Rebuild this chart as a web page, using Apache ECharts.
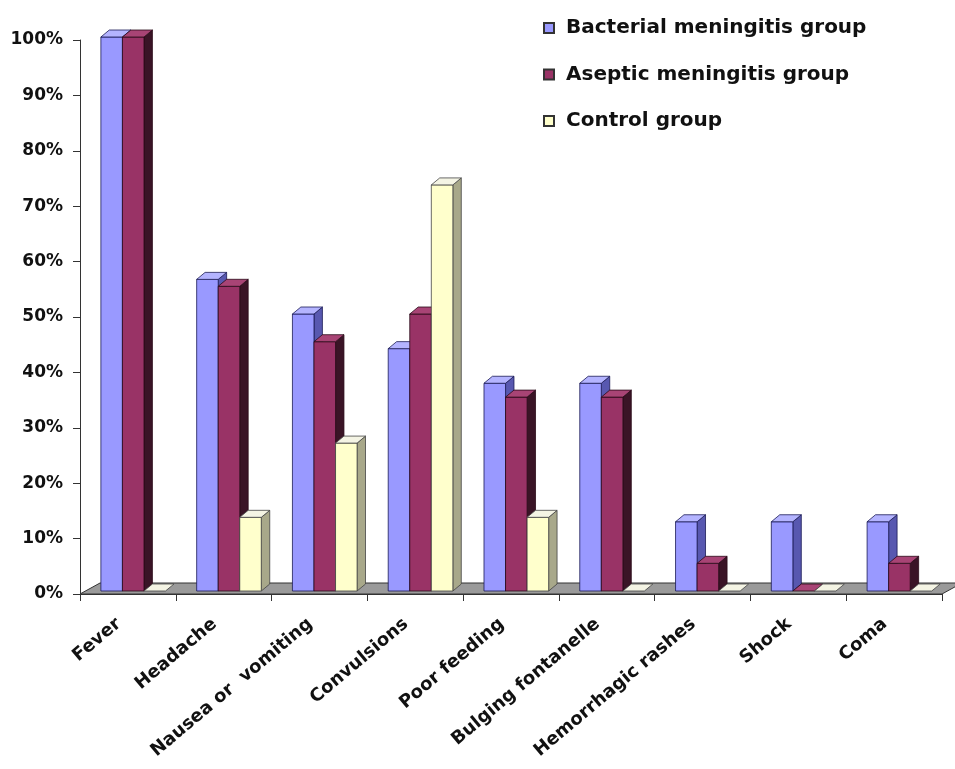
<!DOCTYPE html>
<html><head><meta charset="utf-8">
<script src="https://cdn.jsdelivr.net/npm/echarts@6/dist/echarts.min.js"></script>
<style>html,body{margin:0;padding:0;background:#fff}#c{width:955px;height:769px}</style>
</head><body><div id="c"></div>
<script>
const categories = ['Fever','Headache','Nausea or  vomiting','Convulsions','Poor feeding','Bulging fontanelle','Hemorrhagic rashes','Shock','Coma'];
const seriesNames = ['Bacterial meningitis group','Aseptic meningitis group','Control group'];
const bacterial = [100, 56.25, 50, 43.75, 37.5, 37.5, 12.5, 12.5, 12.5];
const aseptic = [100, 55, 45, 50, 35, 35, 5, 0, 5];
const control = [0, 13.3, 26.7, 73.3, 13.3, 0, 0, 0, 0];
const yMin = 0, yMax = 100, yStep = 10;

const palettes = [
  {front:'#9999FF', top:'#B4B4FF', side:'#5858B0', stroke:'#1a1a55'},
  {front:'#993366', top:'#A84475', side:'#3A1426', stroke:'#2a0a18'},
  {front:'#FFFFCC', top:'#F4F4E4', side:'#A8A88A', stroke:'#444'}
];
const FONT = 'DejaVu Sans';

function barRender(sIdx){
  const p = palettes[sIdx];
  return function(params, api){
    const i = api.value(0), v = api.value(1);
    const c = api.coord([i, v]);
    const c0 = api.coord([i, 0]);
    const band = api.size([1, 0])[0];
    const w = band * 0.225;
    const x = c0[0] - band * 0.282 + sIdx * w;
    const yb = c0[1] - 3, yt = c[1] - 3;
    const dx = band * 0.088, dy = 7;
    const children = [];
    const st = {stroke: p.stroke, lineWidth: 0.8};
    if (yb - yt > 0.5) {
      children.push({type:'polygon', shape:{points:[[x+w,yt],[x+w+dx,yt-dy],[x+w+dx,yb-dy],[x+w,yb]]}, style:Object.assign({fill:p.side}, st)});
      children.push({type:'rect', shape:{x:x, y:yt, width:w, height:yb-yt}, style:Object.assign({fill:p.front}, st)});
    }
    children.push({type:'polygon', shape:{points:[[x,yt],[x+w,yt],[x+w+dx,yt-dy],[x+dx,yt-dy]]}, style:Object.assign({fill:p.top}, st)});
    return {type:'group', children:children};
  };
}

function floorRender(params, api){
  const cs = params.coordSys;
  const yb = cs.y + cs.height;
  return {type:'polygon', shape:{points:[[cs.x,yb],[cs.x+cs.width,yb],[cs.x+cs.width+20,yb-11],[cs.x+20,yb-11]]},
    style:{fill:'#9a9a9a', stroke:'#333', lineWidth:1}};
}

const dataSets = [bacterial, aseptic, control];
const series = [{
  type:'custom', name:'floor', renderItem: floorRender, data:[[0,0]], z:1, silent:true, clip:false
}];
dataSets.forEach((arr, s) => {
  series.push({
    type:'custom', name: seriesNames[s], renderItem: barRender(s), z: 2 + s, clip:false,
    encode:{x:0, y:1},
    itemStyle:{color: palettes[s].front, borderColor: '#333', borderWidth: 1},
    data: arr.map((v, i) => [i, v])
  });
});

const chart = echarts.init(document.getElementById('c'), null, {renderer:'canvas'});
chart.setOption({
  animation:false,
  backgroundColor:'#fff',
  grid:{left:80, right:13, top:40, bottom:175, containLabel:false},
  legend:{
    data: seriesNames, orient:'vertical', left:538, top:13, itemGap:26.5,
    itemWidth:10, itemHeight:10, icon:'rect',
    textStyle:{fontFamily:FONT, fontWeight:'bold', fontSize:20, color:'#111', padding:[0,0,0,7]}
  },
  xAxis:{
    type:'category', data: categories, boundaryGap:true,
    axisLine:{show:true, lineStyle:{color:'#333', width:1}},
    axisTick:{show:true, length:7, alignWithLabel:false, lineStyle:{color:'#333'}},
    axisLabel:{rotate:40, interval:0, margin:20, fontFamily:FONT, fontWeight:'bold', fontSize:18, color:'#111', padding:[0,12,0,0]}
  },
  yAxis:{
    type:'value', min:yMin, max:yMax, interval:yStep,
    axisLine:{show:true, lineStyle:{color:'#333', width:1}},
    axisTick:{show:true, length:7, lineStyle:{color:'#333'}},
    splitLine:{show:false},
    axisLabel:{formatter:'{value}%', margin:17, fontFamily:FONT, fontWeight:'bold', fontSize:17, color:'#111'}
  },
  series: series
});
</script></body></html>
